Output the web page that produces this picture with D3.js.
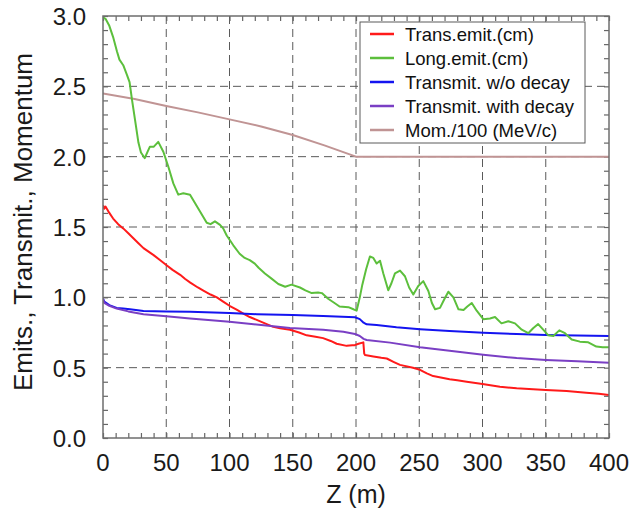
<!DOCTYPE html>
<html><head><meta charset="utf-8">
<script src="https://cdn.jsdelivr.net/npm/d3@7"></script>
<style>body{margin:0;background:#fff}svg{display:block;font-family:"Liberation Sans",Arial,sans-serif}</style>
</head><body>
<script>
// ---- data ----
const seriesNames = ["Trans.emit.(cm)", "Long.emit.(cm)", "Transmit. w/o decay", "Transmit. with decay", "Mom./100 (MeV/c)"];
const seriesColors = ["#ff1a1a", "#5cbf3c", "#1414f0", "#7a3fc4", "#c09494"];
const xTicks = [0, 50, 100, 150, 200, 250, 300, 350, 400];
const yTicks = [0.0, 0.5, 1.0, 1.5, 2.0, 2.5, 3.0];

const transZ = [0,1,2,5,8,12,16,20,24,28,32,36,40,45,50,55,61,65,69,75,79,85,90,95,100,106,111,116,121.5,128,134.6,140,147.8,155,161,168,174,180,184.7,192.6,197,199,202,205.8,206.5,207.1,213.7,220,224.3,230,234.8,245,250.6,256,261,267,274,280,287.5,300,313.8,327,340,350,366.5,382,392,400];
const transV = [1.655,1.63,1.645,1.60,1.56,1.52,1.49,1.455,1.42,1.385,1.35,1.325,1.30,1.265,1.23,1.195,1.16,1.13,1.105,1.07,1.05,1.02,1.0,0.97,0.94,0.91,0.885,0.86,0.84,0.815,0.79,0.78,0.77,0.75,0.73,0.72,0.71,0.69,0.67,0.655,0.66,0.66,0.67,0.68,0.60,0.59,0.58,0.57,0.565,0.54,0.52,0.50,0.485,0.46,0.44,0.43,0.417,0.41,0.40,0.384,0.365,0.353,0.346,0.341,0.334,0.322,0.314,0.305];

const longZ = [0,2,5,8,11,13,16,19,21,23,26,28,30,33,35,37,40,43.7,47.7,51.6,55.6,59.5,63.5,68.8,72.7,76.7,82,85,88.5,92.5,95,97.8,103,108,112,116,120,123,128,133,138.6,144,149,155.7,160,165,170,173,178,183,187,194,198,200.5,203,205,208,211,213.7,216.3,219,221.6,225.5,228,230.8,234.8,238.7,242,245.3,249.2,253.2,257.2,260,262.5,266.4,270,273,277,281,285,288,291.5,295.4,300.6,305.9,309.9,315,320.4,325.7,331,336.2,340,344,348,352,356,360.7,365.2,370.5,377,383.6,390,395,400];
const longV = [2.99,2.98,2.93,2.85,2.75,2.69,2.65,2.58,2.53,2.40,2.22,2.10,2.03,1.99,2.03,2.07,2.07,2.105,2.035,1.93,1.81,1.73,1.74,1.73,1.67,1.61,1.53,1.52,1.54,1.515,1.49,1.44,1.37,1.31,1.28,1.265,1.24,1.21,1.17,1.135,1.095,1.075,1.09,1.07,1.05,1.03,1.035,1.03,0.99,0.96,0.935,0.93,0.915,0.905,1.0,1.09,1.2,1.29,1.28,1.24,1.26,1.17,1.05,1.1,1.17,1.19,1.15,1.07,1.02,1.08,1.115,1.045,0.96,0.915,0.925,0.99,1.04,1.0,0.915,0.91,0.935,0.96,0.905,0.845,0.85,0.86,0.815,0.83,0.815,0.77,0.745,0.78,0.81,0.77,0.73,0.725,0.765,0.745,0.70,0.685,0.68,0.65,0.645,0.645];

const woZ = [0,1,5,10.8,16,21.3,26,32,50,68.8,100,121.5,150,174,199.2,203,206,208.4,216.3,232,250.6,274,300.6,327,350,375,400];
const woV = [0.99,0.97,0.945,0.925,0.92,0.915,0.91,0.903,0.90,0.897,0.888,0.88,0.874,0.867,0.858,0.845,0.82,0.808,0.803,0.787,0.773,0.76,0.749,0.739,0.732,0.728,0.725];

const withZ = [0,1,5,10.8,20,32,50,68.8,100,134.6,147.8,174,190,199.2,203,206,208.4,227,250.6,274,300.6,327,350,375,400];
const withV = [0.99,0.96,0.94,0.92,0.90,0.88,0.866,0.85,0.827,0.795,0.782,0.77,0.755,0.74,0.725,0.705,0.697,0.678,0.645,0.62,0.592,0.568,0.555,0.545,0.535];

const momZ = [0,25,50,75,100,125,150,175,200,400];
const momV = [2.45,2.41,2.36,2.315,2.265,2.215,2.154,2.08,2.0,2.0];

const seriesZ = [transZ, longZ, woZ, withZ, momZ];
const seriesV = [transV, longV, woV, withV, momV];

// ---- layout ----
const W = 635, H = 511;
const L = 103, R = 609, T = 16, B = 438;
const svg = d3.select("body").append("svg").attr("width", W).attr("height", H);
const x = d3.scaleLinear().domain([0, 400]).range([L, R]);
const y = d3.scaleLinear().domain([0, 3]).range([B, T]);

svg.append("defs").append("clipPath").attr("id", "clip")
  .append("rect").attr("x", L).attr("y", T).attr("width", R - L).attr("height", B - T);

// grid
const grid = svg.append("g").attr("stroke", "#5a5a5a").attr("stroke-width", 1).attr("stroke-dasharray", "8,5");
xTicks.filter(d => d > 0 && d < 400).forEach(d => {
  grid.append("line").attr("x1", x(d)).attr("x2", x(d)).attr("y1", T).attr("y2", B);
});
yTicks.filter(d => d > 0 && d < 3).forEach(d => {
  grid.append("line").attr("x1", L).attr("x2", R).attr("y1", y(d)).attr("y2", y(d));
});

// axes with inward ticks
const minorX = d3.range(0, 401, 10);
const minorY = d3.range(0, 31, 1).map(d => d / 10);
const axG = svg.append("g");
axG.append("g").attr("transform", `translate(0,${B})`)
  .call(d3.axisBottom(x).tickValues(minorX).tickSize(-5).tickFormat(""));
axG.append("g").attr("transform", `translate(0,${T})`)
  .call(d3.axisTop(x).tickValues(minorX).tickSize(-5).tickFormat(""));
axG.append("g").attr("transform", `translate(${L},0)`)
  .call(d3.axisLeft(y).tickValues(minorY).tickSize(-5).tickFormat(""));
axG.append("g").attr("transform", `translate(${R},0)`)
  .call(d3.axisRight(y).tickValues(minorY).tickSize(-5).tickFormat(""));
axG.selectAll(".domain").remove();
axG.selectAll(".tick line").attr("stroke", "#666").attr("stroke-width", 1.2);

// lines
const lineGen = d3.line().x(d => x(d[0])).y(d => y(d[1]));
const lg = svg.append("g").attr("clip-path", "url(#clip)");
[4, 0, 2, 3, 1].forEach(i => {
  const pts = seriesZ[i].map((z, k) => [z, seriesV[i][k]]);
  lg.append("path").datum(pts).attr("d", lineGen)
    .attr("fill", "none").attr("stroke", seriesColors[i]).attr("stroke-width", 2)
    .attr("stroke-linejoin", "round");
});

// frame
svg.append("rect").attr("x", L).attr("y", T).attr("width", R - L).attr("height", B - T)
  .attr("fill", "none").attr("stroke", "#6e6e6e").attr("stroke-width", 1.5);

// tick labels
const lab = svg.append("g").attr("font-size", 24).attr("fill", "#1a1a1a");
xTicks.forEach(d => {
  lab.append("text").attr("x", x(d)).attr("y", 471).attr("text-anchor", "middle").text(d3.format("d")(d));
});
yTicks.forEach(d => {
  lab.append("text").attr("x", 86).attr("y", y(d) + 9).attr("text-anchor", "end").text(d3.format(".1f")(d));
});

// axis titles
svg.append("text").attr("x", (L + R) / 2).attr("y", 503).attr("text-anchor", "middle")
  .attr("font-size", 25).attr("fill", "#1a1a1a").text("Z (m)");
svg.append("text").attr("transform", `translate(32,${(T + B) / 2 - 5}) rotate(-90)`)
  .attr("text-anchor", "middle").attr("font-size", 26).attr("fill", "#1a1a1a")
  .text("Emits., Transmit., Momentum");

// legend
const leg = svg.append("g");
leg.append("rect").attr("x", 360).attr("y", 22).attr("width", 225).attr("height", 121)
  .attr("fill", "#fff").attr("stroke", "#5a5a5a").attr("stroke-width", 1);
seriesNames.forEach((n, i) => {
  const cy = 34 + i * 24;
  leg.append("line").attr("x1", 370).attr("x2", 394).attr("y1", cy).attr("y2", cy)
    .attr("stroke", seriesColors[i]).attr("stroke-width", 2.5);
  leg.append("text").attr("x", 405).attr("y", cy + 6.5).attr("font-size", 18.5).attr("fill", "#111").text(n);
});
</script>
</body></html>
